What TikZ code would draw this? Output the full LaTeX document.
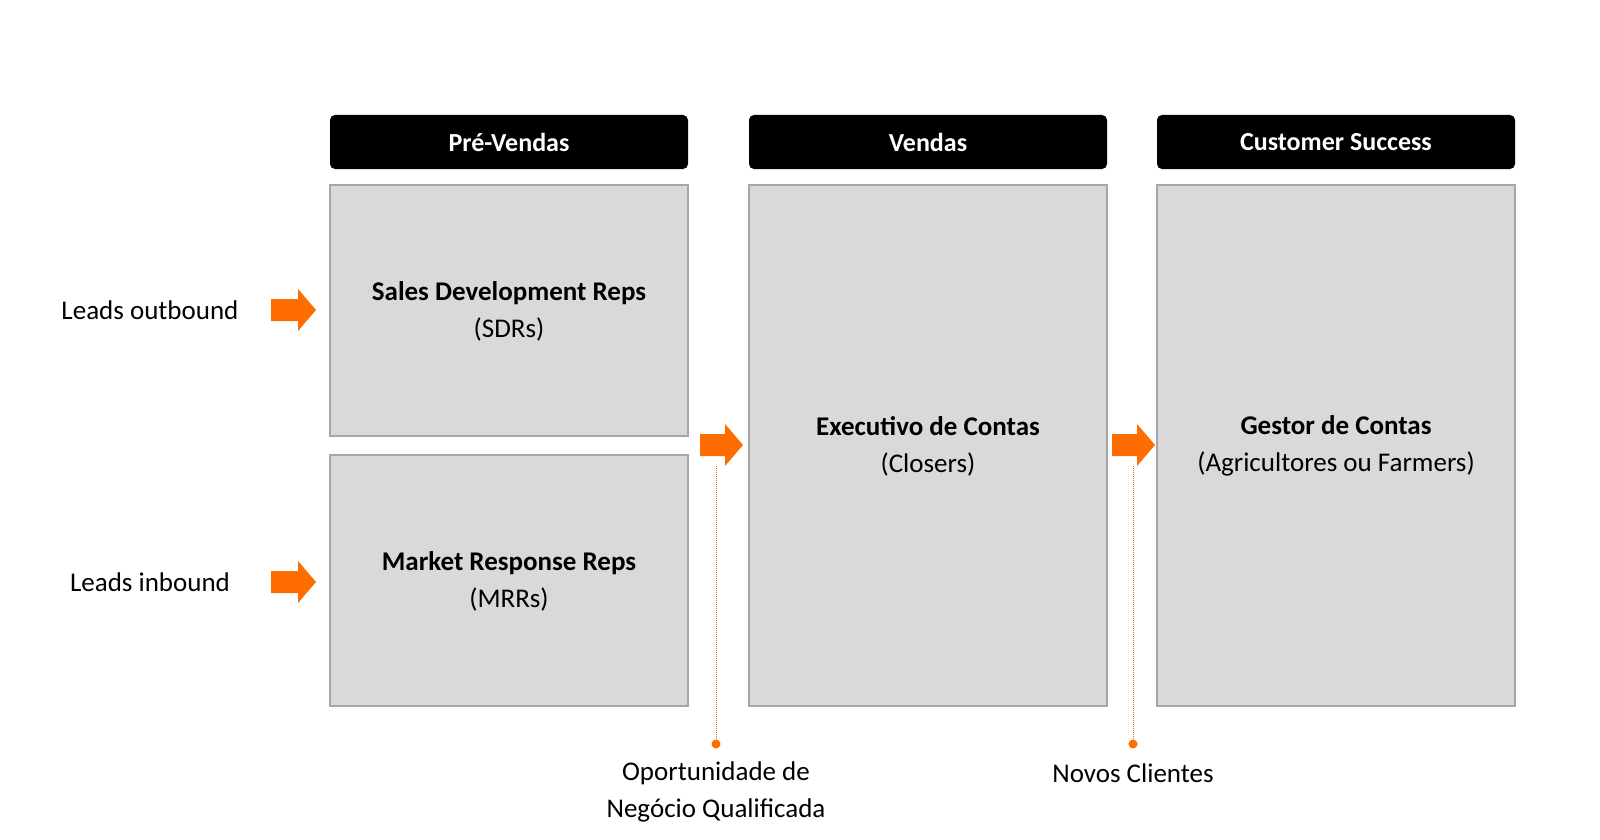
\documentclass[tikz,border=0pt]{standalone}
\usepackage{fontspec}
\setmainfont{Carlito}
\begin{document}
\begin{tikzpicture}[x=1pt,y=-1pt,
  hdr/.style={fill=black,rounded corners=5pt,text=white,font=\fontsize{26}{30}\selectfont\bfseries},
  box/.style={fill=black!15,draw=black!35,line width=1.2pt},
  txt/.style={align=center,font=\fontsize{27}{37}\selectfont},
  lbl/.style={align=center,font=\fontsize{27}{37}\selectfont},
  dots/.style={draw=orange!80!red,densely dotted,line width=1pt},
  dotend/.style={circle,fill=orange!85!red,inner sep=0pt,minimum size=9pt}]
\useasboundingbox (0,0) rectangle (1600,840);
\fill[white] (0,0) rectangle (1600,840);
\def\arr#1#2#3{% x1 x2 y
  \fill[orange!85!red] (#1,#3-11) -- (#2-18,#3-11) -- (#2-18,#3-21) -- (#2,#3) -- (#2-18,#3+21) -- (#2-18,#3+11) -- (#1,#3+11) -- cycle;}
% headers
\path[hdr] (330,115) rectangle (688,169); \node[text=white,font=\fontsize{26}{30}\selectfont\bfseries] (h1) at (509,142) {Pré-Vendas};
\path[hdr] (749,115) rectangle (1107,169); \node[text=white,font=\fontsize{26}{30}\selectfont\bfseries] (h2) at (928,142) {Vendas};
\path[hdr] (1157,115) rectangle (1515,169); \node[text=white,font=\fontsize{26}{30}\selectfont\bfseries] (h3) at (1336,142) {Customer Success};
% boxes
\draw[box] (330,185) rectangle (688,436);
\draw[box] (330,455) rectangle (688,706);
\draw[box] (749,185) rectangle (1107,706);
\draw[box] (1157,185) rectangle (1515,706);
\node[txt] (sdr) at (509,311) {\textbf{Sales Development Reps}\\(SDRs)};
\node[txt] (mrr) at (509,581) {\textbf{Market Response Reps}\\(MRRs)};
\node[txt] (exe) at (928,446) {\textbf{Executivo de Contas}\\(Closers)};
\node[txt] (ges) at (1336,446) {\textbf{Gestor de Contas}\\(Agricultores ou Farmers)};
% labels
\node[lbl] (lo) at (150,310) {Leads outbound};
\node[lbl] (li) at (150,582) {Leads inbound};
% arrows
\arr{271}{316}{310}
\arr{271}{316}{582}
\arr{700}{743}{445}
\arr{1112}{1155}{445}
% dotted
\node[dotend] (d1) at (716,744) {};
\node[dotend] (d2) at (1133,744) {};
\draw[dots] (716,466) -- (d1);
\draw[dots] (1133,466) -- (d2);
\node[lbl] (op) at (716,792) {Oportunidade de\\Negócio Qualificada};
\node[lbl] (nc) at (1133,773) {Novos Clientes};
\end{tikzpicture}
\end{document}
